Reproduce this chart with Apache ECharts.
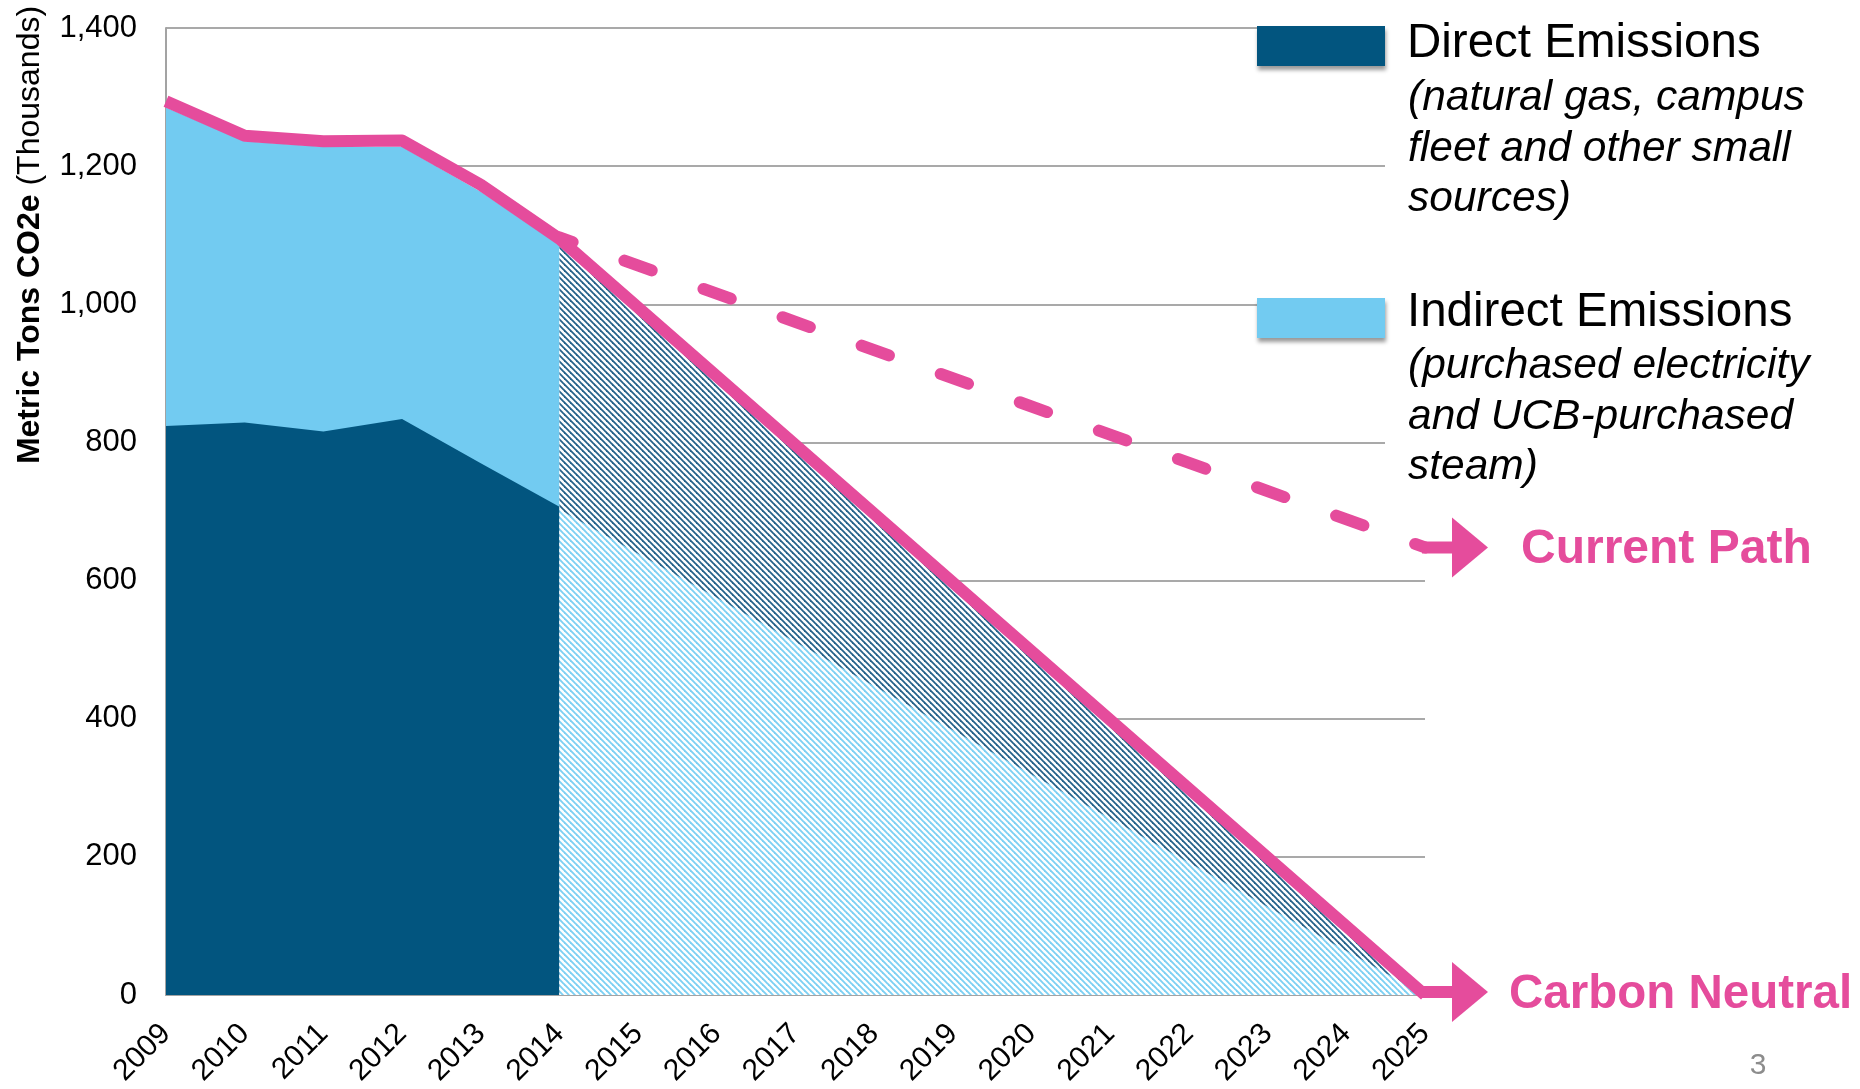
<!DOCTYPE html>
<html>
<head>
<meta charset="utf-8">
<script src="https://cdn.jsdelivr.net/npm/echarts@6/dist/echarts.min.js"></script>
<style>
  html, body { margin: 0; padding: 0; background: #ffffff; }
  #chart { width: 1860px; height: 1089px; }
</style>
</head>
<body>
<div id="chart"></div>
<script>
// Campus greenhouse-gas emissions, thousands of metric tons CO2e
const years = [2009, 2010, 2011, 2012, 2013, 2014];
const directEmissions = [824, 829, 816, 834, 770, 707];
const indirectEmissions = [461, 407, 412, 394, 393, 379];

// Projected reduction to carbon neutrality
const projectionYears = [2014, 2025];
const projectedIndirect = [703, 0];
const projectedDirect = [383, 0];

// Carbon-neutral trajectory (solid) and business-as-usual path (dashed)
const neutralPathYears = [2009, 2010, 2011, 2012, 2013, 2014, 2025];
const neutralPathValues = [1294, 1244, 1236, 1237, 1173, 1095, 0];
const currentPathYears = [2014, 2025];
const currentPathValues = [1097, 648];

const yAxisMin = 0, yAxisMax = 1400, yAxisStep = 200;
const xAxisMin = 2009, xAxisMax = 2025;

const FONT = "'Liberation Sans', Arial, Helvetica, sans-serif";
const PINK = '#e54c9c';
const DARK = '#02557f';
const LIGHT = '#72cbf1';

const pairs = (xs, ys) => xs.map((x, i) => [x, ys[i]]);
// Cumulative tops of the stacked bands (the lower band is painted over the upper one)
const sum = (a, b) => a.map((v, i) => v + b[i]);
const historyTotal = sum(directEmissions, indirectEmissions);
const projectedTotal = sum(projectedIndirect, projectedDirect);

// Diagonal stripe tile used to fill the projected areas
function stripes(color, width) {
  const size = 6;
  const c = document.createElement('canvas');
  c.width = size; c.height = size;
  const g = c.getContext('2d');
  g.fillStyle = '#ffffff';
  g.fillRect(0, 0, size, size);
  g.strokeStyle = color;
  g.lineWidth = width;
  for (let k = -1; k <= 1; k++) {
    g.beginPath();
    g.moveTo(k * size - 1, -1);
    g.lineTo(k * size + size + 1, size + 1);
    g.stroke();
  }
  return c;
}

const chart = echarts.init(document.getElementById('chart'), null, { renderer: 'canvas' });

const areaBase = {
  type: 'line',
  symbol: 'none',
  smooth: false,
  lineStyle: { opacity: 0 },
  silent: true,
  z: 2
};

chart.setOption({
  animation: false,
  backgroundColor: '#ffffff',
  grid: { left: 166, right: 435, top: 28, bottom: 92, containLabel: false },
  xAxis: {
    type: 'value',
    min: xAxisMin,
    max: xAxisMax,
    interval: 1,
    axisLine: { show: true, lineStyle: { color: '#a3a3a3', width: 2 } },
    axisTick: { show: false },
    splitLine: { show: false },
    axisLabel: {
      rotate: 45,
      margin: 34,
      fontSize: 30,
      fontFamily: FONT,
      color: '#000000',
      formatter: v => String(v)
    }
  },
  yAxis: {
    type: 'value',
    min: yAxisMin,
    max: yAxisMax,
    interval: yAxisStep,
    axisLine: { show: true, lineStyle: { color: '#a3a3a3', width: 2 } },
    axisTick: { show: false },
    splitLine: { show: true, lineStyle: { color: '#8c8c8c', width: 1.5 } },
    axisLabel: {
      margin: 29,
      fontSize: 31,
      fontFamily: FONT,
      color: '#000000',
      formatter: v => v.toLocaleString('en-US')
    }
  },
  series: [
    Object.assign({}, areaBase, {
      name: 'Indirect Emissions',
      data: pairs(years, historyTotal),
      areaStyle: { color: LIGHT, opacity: 1 }
    }),
    Object.assign({}, areaBase, {
      name: 'Direct Emissions',
      data: pairs(years, directEmissions),
      areaStyle: { color: DARK, opacity: 1 }
    }),
    Object.assign({}, areaBase, {
      name: 'Projected Direct',
      data: pairs(projectionYears, projectedTotal),
      areaStyle: { color: { image: stripes('#24628a', 1.8), repeat: 'repeat' }, opacity: 1 }
    }),
    Object.assign({}, areaBase, {
      name: 'Projected Indirect',
      data: pairs(projectionYears, projectedIndirect),
      areaStyle: { color: { image: stripes('#7dd0f3', 1.9), repeat: 'repeat' }, opacity: 1 }
    }),
    {
      type: 'line', name: 'Current Path', symbol: 'none', clip: false, silent: true,
      data: pairs(currentPathYears, currentPathValues),
      lineStyle: { color: PINK, width: 12, type: [29, 55], dashOffset: 15, cap: 'round' },
      z: 4
    },
    {
      type: 'line', name: 'Carbon Neutral', symbol: 'none', clip: false, silent: true,
      data: pairs(neutralPathYears, neutralPathValues),
      lineStyle: { color: PINK, width: 12, join: 'round' },
      z: 5
    }
  ]
});

// Arrowheads, legend and annotations placed from axis coordinates
const toPx = (x, y) => chart.convertToPixel({ gridIndex: 0 }, [x, y]);
const [nx, ny] = toPx(neutralPathYears[neutralPathYears.length - 1], neutralPathValues[neutralPathValues.length - 1]);
const [cx, cy] = toPx(currentPathYears[currentPathYears.length - 1], currentPathValues[currentPathValues.length - 1]);

function arrow(id, x, y) {
  return [
    { type: 'rect', id: id + '-stem', z: 20, shape: { x: x - 3, y: y - 6, width: 34, height: 12 }, style: { fill: PINK } },
    { type: 'polygon', id: id + '-head', z: 20, shape: { points: [[x + 27, y - 30], [x + 63, y], [x + 27, y + 30]] }, style: { fill: PINK } }
  ];
}

const txt = (id, x, y, text, opts) => ({
  type: 'text', id, z: 30, x, y,
  style: Object.assign({ text, fill: '#000000', fontFamily: FONT, align: 'left', verticalAlign: 'middle' }, opts)
});

const swatch = (id, y, color) => ({
  type: 'rect', id, z: 25,
  shape: { x: 1257, y, width: 128, height: 40 },
  style: { fill: color, shadowBlur: 4, shadowOffsetX: 1, shadowOffsetY: 4, shadowColor: 'rgba(0,0,0,0.4)' }
});

const TITLE = 47.5, NOTE = 42.5;
const graphics = [
  { type: 'rect', id: 'legend-bg', z: 15, shape: { x: 1385, y: 0, width: 475, height: 500 }, style: { fill: '#ffffff' } },
  swatch('sw-direct', 26, DARK),
  swatch('sw-indirect', 298, LIGHT),
  txt('t-direct', 1407, 44, 'Direct Emissions', { fontSize: TITLE }),
  txt('t-direct-1', 1408, 98, '(natural gas, campus', { fontSize: NOTE, fontStyle: 'italic' }),
  txt('t-direct-2', 1408, 149, 'fleet and other small', { fontSize: NOTE, fontStyle: 'italic' }),
  txt('t-direct-3', 1408, 199, 'sources)', { fontSize: NOTE, fontStyle: 'italic' }),
  txt('t-indirect', 1407, 313, 'Indirect Emissions', { fontSize: TITLE }),
  txt('t-indirect-1', 1408, 366, '(purchased electricity', { fontSize: NOTE, fontStyle: 'italic' }),
  txt('t-indirect-2', 1408, 417, 'and UCB-purchased', { fontSize: NOTE, fontStyle: 'italic' }),
  txt('t-indirect-3', 1408, 467, 'steam)', { fontSize: NOTE, fontStyle: 'italic' }),
  ...arrow('arrow-current', cx, cy),
  ...arrow('arrow-neutral', nx, ny - 3),
  txt('t-current', cx + 96, cy + 2, 'Current Path', { fontSize: 48, fontWeight: 'bold', fill: PINK }),
  txt('t-neutral', nx + 84, ny, 'Carbon Neutral', { fontSize: 47.5, fontWeight: 'bold', fill: PINK }),
  {
    type: 'text', id: 'y-title', z: 30, x: 30, y: 235, rotation: Math.PI / 2,
    style: {
      text: '{b|Metric Tons CO2e} {r|(Thousands)}',
      align: 'center', verticalAlign: 'middle', fill: '#000000',
      fontFamily: FONT, fontSize: 32,
      rich: {
        b: { fontFamily: FONT, fontSize: 32, fontWeight: 'bold', fill: '#000000' },
        r: { fontFamily: FONT, fontSize: 32, fill: '#000000' }
      }
    }
  },
  txt('page-num', 1758, 1066, '3', { fontSize: 30, fill: '#8c8c8c', align: 'center' })
];

chart.setOption({ graphic: graphics });
</script>
</body>
</html>
